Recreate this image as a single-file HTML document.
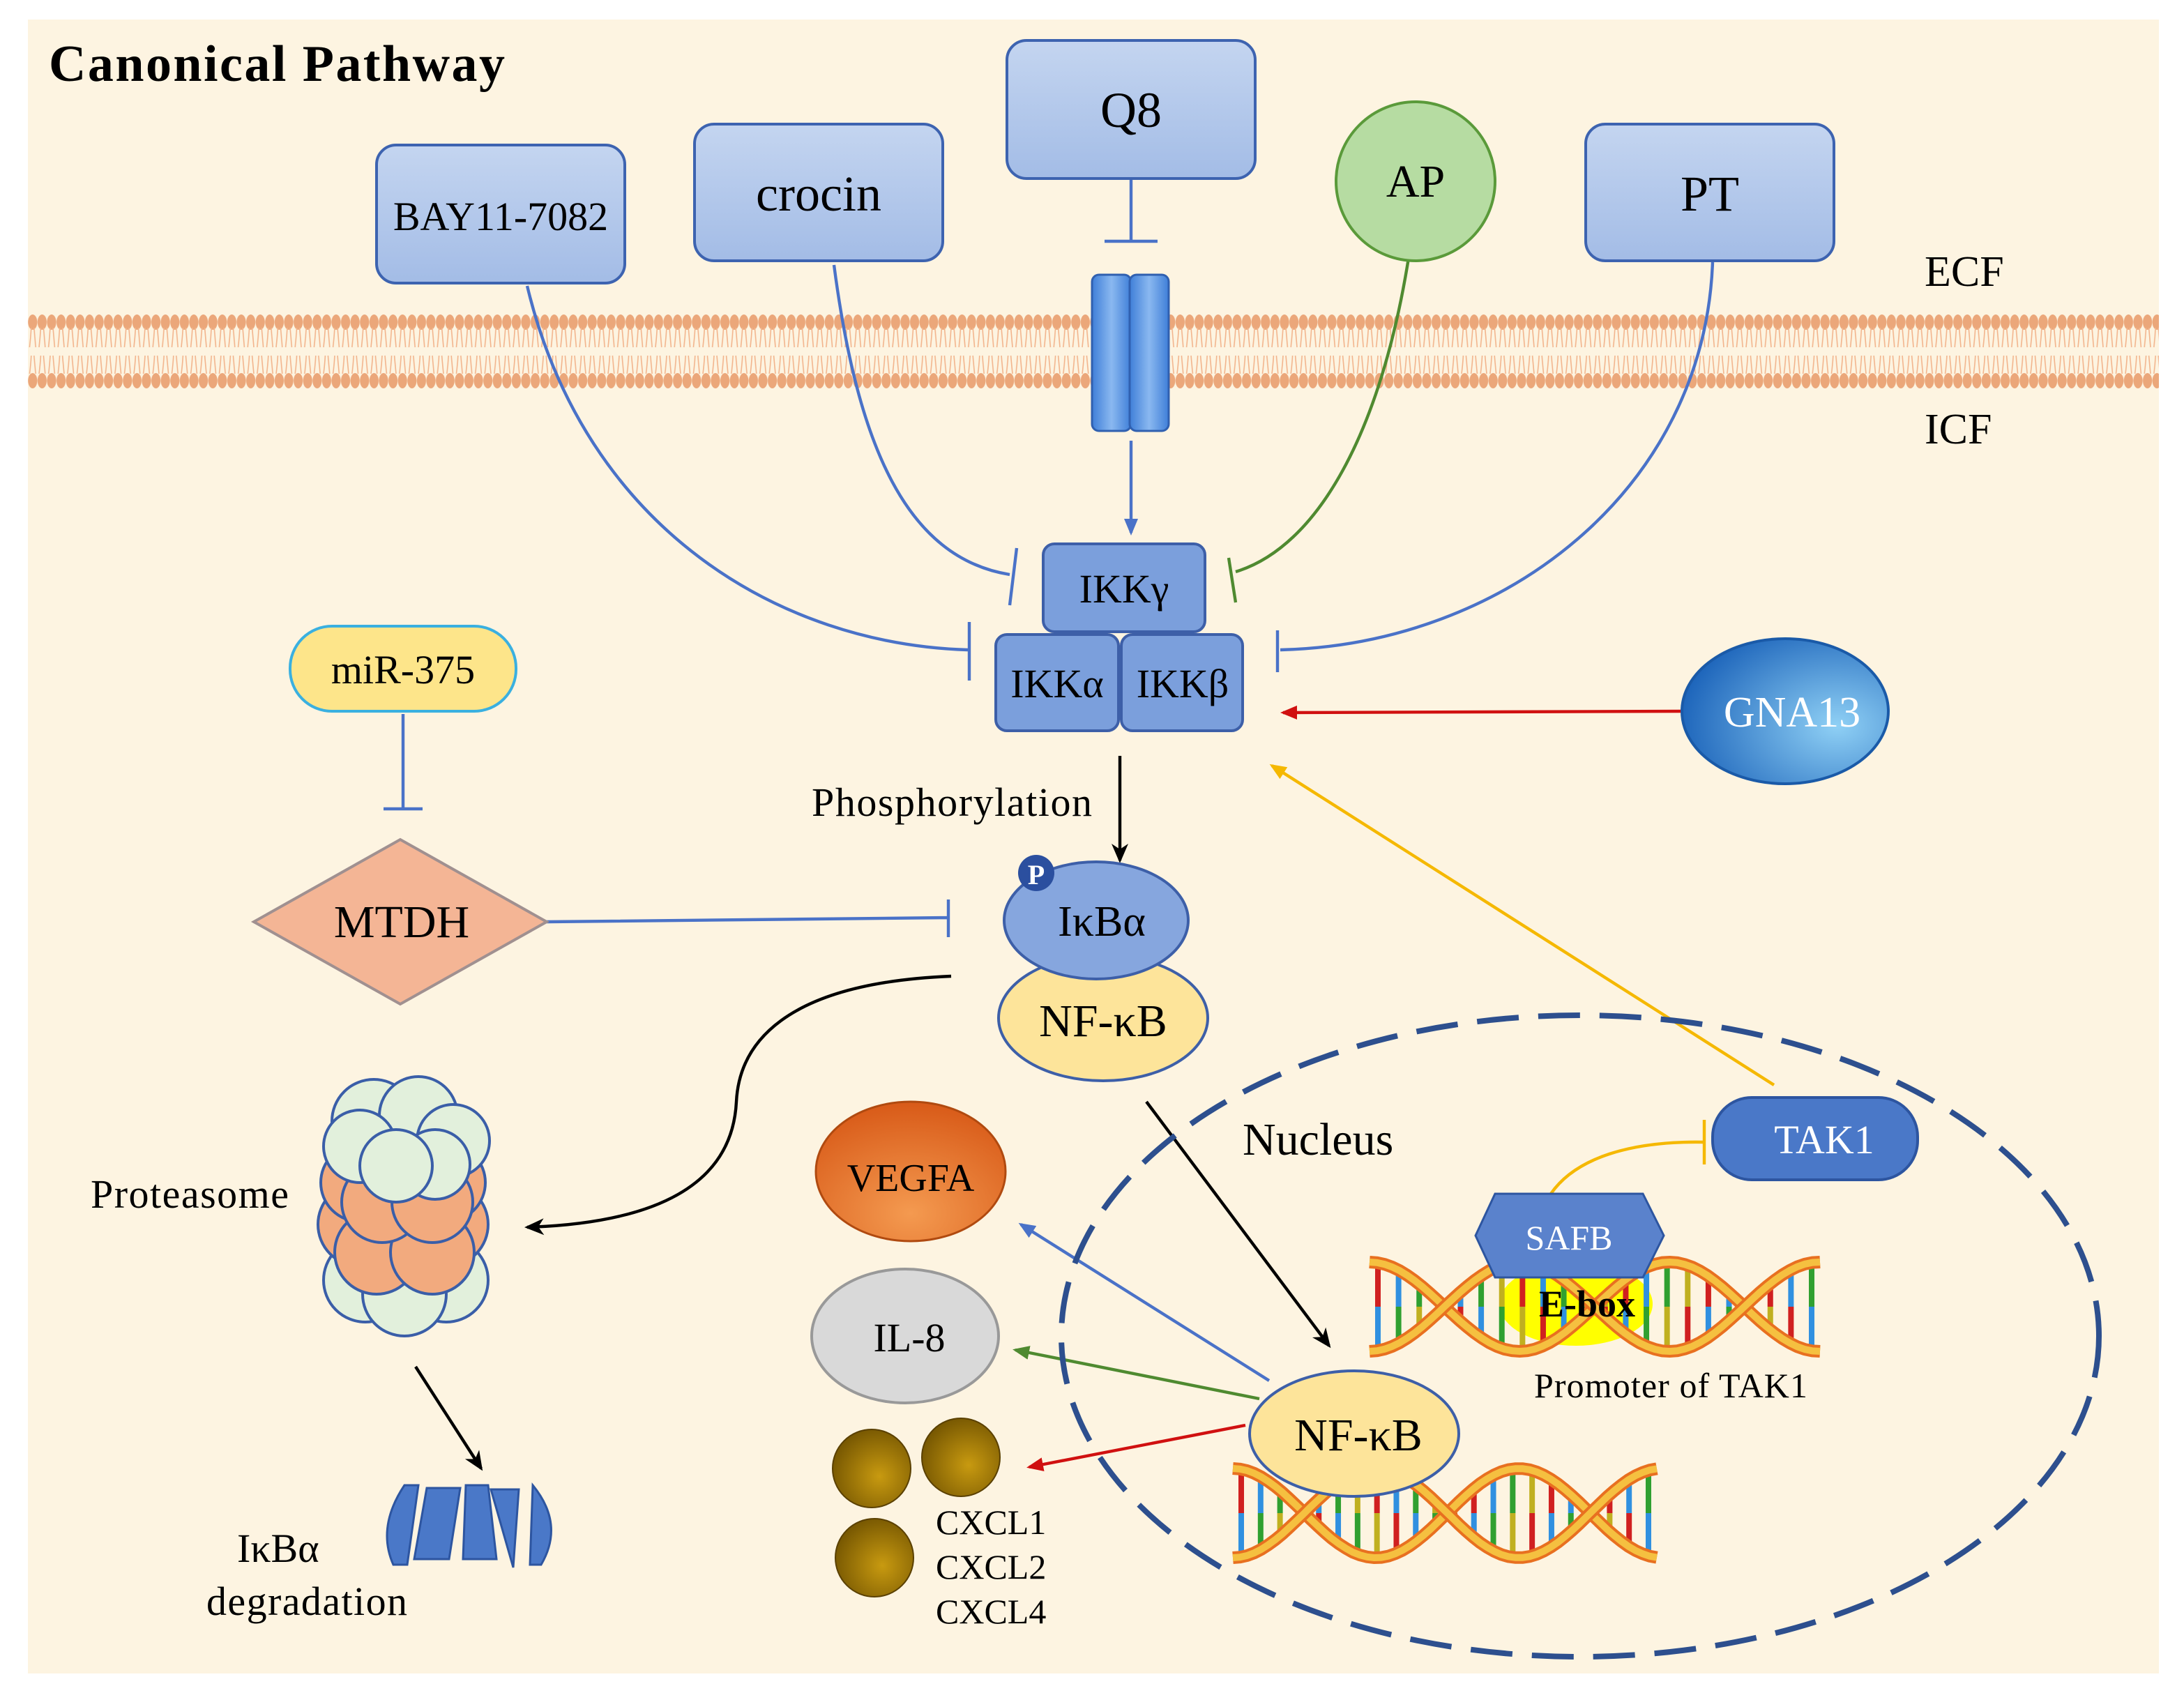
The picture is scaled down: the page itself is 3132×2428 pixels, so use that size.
<!DOCTYPE html>
<html><head><meta charset="utf-8"><style>
html,body{margin:0;padding:0;background:#fff}
svg{display:block}
text{font-family:"Liberation Serif",serif}
</style></head><body>
<svg id="s" width="3132" height="2428" viewBox="0 0 1566 1214" xmlns="http://www.w3.org/2000/svg">
<defs>
<linearGradient id="bx" x1="0" y1="0" x2="0" y2="1"><stop offset="0" stop-color="#c4d5f0"/><stop offset="1" stop-color="#a3bce6"/></linearGradient>
<linearGradient id="ch" x1="0" y1="0" x2="1" y2="0"><stop offset="0" stop-color="#3f7fd8"/><stop offset=".5" stop-color="#8ab8f0"/><stop offset="1" stop-color="#3f7fd8"/></linearGradient>
<radialGradient id="gn" cx=".75" cy=".6" r=".8"><stop offset="0" stop-color="#8fd0f5"/><stop offset="1" stop-color="#1860b8"/></radialGradient>
<radialGradient id="vg" cx=".5" cy=".8" r=".8"><stop offset="0" stop-color="#f49a50"/><stop offset="1" stop-color="#d85a18"/></radialGradient>
<radialGradient id="gd" cx=".6" cy=".6" r=".7"><stop offset="0" stop-color="#c89a10"/><stop offset="1" stop-color="#6e5000"/></radialGradient>
<pattern id="mt" x="20" y="222" width="6.8" height="60" patternUnits="userSpaceOnUse">
<ellipse cx="3.4" cy="9" rx="3.3" ry="5.5" fill="#eba77a"/>
<path d="M2.4 13 Q2 20 1.2 27 M4.4 13 Q5 20 5.6 27" stroke="#f2b48c" stroke-width=".8" fill="none"/>
<path d="M2.4 33 Q2 40 1.2 46 M4.4 33 Q5 40 5.6 46" stroke="#f2b48c" stroke-width=".8" fill="none"/>
<ellipse cx="3.4" cy="51" rx="3.3" ry="5.5" fill="#eba77a"/>
</pattern>
<marker id="abl" markerWidth="12" markerHeight="12" refX="10" refY="6" orient="auto" markerUnits="userSpaceOnUse"><path d="M0 1 L12 6 L0 11 Z" fill="#4a72c8"/></marker>
<marker id="ar" markerWidth="12" markerHeight="12" refX="10" refY="6" orient="auto" markerUnits="userSpaceOnUse"><path d="M0 1 L12 6 L0 11 Z" fill="#d01010"/></marker>
<marker id="ag" markerWidth="12" markerHeight="12" refX="10" refY="6" orient="auto" markerUnits="userSpaceOnUse"><path d="M0 1 L12 6 L0 11 Z" fill="#4f8a30"/></marker>
<marker id="ay" markerWidth="12" markerHeight="12" refX="10" refY="6" orient="auto" markerUnits="userSpaceOnUse"><path d="M0 1 L12 6 L0 11 Z" fill="#f5b800"/></marker>
<marker id="ak" markerWidth="14" markerHeight="14" refX="12" refY="7" orient="auto" markerUnits="userSpaceOnUse"><path d="M0 1 L14 7 L0 13 L4 7 Z" fill="#000"/></marker>
</defs>
<rect x="20" y="14" width="1528" height="1186" fill="#fdf4e1"/>
<rect x="20" y="222" width="1528" height="60" fill="url(#mt)"/>
<text x="35" y="58" font-size="37" font-weight="bold" textLength="327">Canonical Pathway</text>
<text x="1380" y="205" font-size="31">ECF</text>
<text x="1380" y="318" font-size="31">ICF</text>

<g fill="none" stroke-width="2.2">
<path d="M378 205 C 420 380, 560 462, 694 466" stroke="#4a72c8"/>
<path d="M695 446 L695 488" stroke="#4a72c8"/>
<path d="M598 190 C 615 320, 650 400, 724 412" stroke="#4a72c8"/>
<path d="M729 393 L724 434" stroke="#4a72c8"/>
<path d="M1010 185 C 990 310, 945 392, 886 410" stroke="#4f8a30"/>
<path d="M881 400 L886 432" stroke="#4f8a30"/>
<path d="M1228 188 C 1222 350, 1080 462, 918 466" stroke="#4a72c8"/>
<path d="M916 452 L916 482" stroke="#4a72c8"/>
<path d="M811 128 L811 173 M792 173 L830 173" stroke="#4a72c8"/>
<path d="M811 316 L811 382" stroke="#4a72c8" marker-end="url(#abl)"/>
<path d="M1206 510 L920 511" stroke="#d01010" marker-end="url(#ar)"/>
<path d="M1272 778 L912 549" stroke="#f5b800" marker-end="url(#ay)"/>
<path d="M1112 856 C 1130 830, 1170 818, 1222 819" stroke="#f5b800"/>
<path d="M1222 803 L1222 835" stroke="#f5b800"/>
<path d="M289 512 L289 580 M275 580 L303 580" stroke="#4a72c8"/>
<path d="M392 661 L680 658 M680 645 L680 672" stroke="#4a72c8"/>
<path d="M803 542 L803 617" stroke="#000" marker-end="url(#ak)"/>
<path d="M682 700 C 560 705, 530 750, 528 790 C 525 850, 470 877, 378 880" stroke="#000" marker-end="url(#ak)"/>
<path d="M298 980 L345 1053" stroke="#000" marker-end="url(#ak)"/>
<path d="M822 790 L953 965" stroke="#000" marker-end="url(#ak)"/>
<path d="M910 990 L732 878" stroke="#4a72c8" marker-end="url(#abl)"/>
<path d="M903 1003 L728 968" stroke="#4f8a30" marker-end="url(#ag)"/>
<path d="M893 1022 L738 1052" stroke="#d01010" marker-end="url(#ar)"/>
</g>

<ellipse cx="1133" cy="958" rx="372" ry="230" fill="none" stroke="#2d4f8e" stroke-width="4" stroke-dasharray="30 14"/>
<text x="891" y="828" font-size="33">Nucleus</text>

<g stroke="#3d63b0" stroke-width="2" fill="url(#bx)">
<rect x="270" y="104" width="178" height="99" rx="14"/>
<rect x="498" y="89" width="178" height="98" rx="14"/>
<rect x="722" y="29" width="178" height="99" rx="14"/>
<rect x="1137" y="89" width="178" height="98" rx="14"/>
</g>
<circle cx="1015" cy="130" r="57" fill="#b6dca2" stroke="#5a9a3a" stroke-width="2"/>
<g text-anchor="middle">
<text x="359" y="165" font-size="29">BAY11-7082</text>
<text x="587" y="151" font-size="36">crocin</text>
<text x="811" y="91" font-size="36">Q8</text>
<text x="1015" y="141" font-size="33">AP</text>
<text x="1226" y="151" font-size="36">PT</text>
</g>
<rect x="783" y="197" width="28" height="112" rx="5" fill="url(#ch)" stroke="#3060b0" stroke-width="1.5"/>
<rect x="810" y="197" width="28" height="112" rx="5" fill="url(#ch)" stroke="#3060b0" stroke-width="1.5"/>

<g fill="#7b9fdc" stroke="#3d5fa8" stroke-width="2">
<rect x="748" y="390" width="116" height="63" rx="8"/>
<rect x="714" y="455" width="88" height="69" rx="8"/>
<rect x="804" y="455" width="87" height="69" rx="8"/>
</g>
<g text-anchor="middle" font-size="29">
<text x="806" y="432">IKKγ</text>
<text x="758" y="500">IKKα</text>
<text x="848" y="500">IKKβ</text>
</g>

<ellipse cx="1280" cy="510" rx="74" ry="52" fill="url(#gn)" stroke="#1a5aa8" stroke-width="2"/>
<text x="1285" y="521" font-size="31" fill="#fff" text-anchor="middle">GNA13</text>
<rect x="1228" y="787" width="147" height="59" rx="28" fill="#4a78c8" stroke="#2d55a0" stroke-width="2"/>
<text x="1308" y="827" font-size="29" fill="#fff" text-anchor="middle">TAK1</text>

<rect x="208" y="449" width="162" height="61" rx="30" fill="#fde58a" stroke="#3ab0e0" stroke-width="2"/>
<text x="289" y="490" font-size="29" text-anchor="middle">miR-375</text>
<polygon points="182,661 287,602 392,661 287,720" fill="#f4b595" stroke="#a09090" stroke-width="2"/>
<text x="288" y="672" font-size="33" text-anchor="middle">MTDH</text>

<text x="582" y="585" font-size="29" textLength="201">Phosphorylation</text>

<ellipse cx="791" cy="730" rx="75" ry="45" fill="#fde49a" stroke="#3d5fa8" stroke-width="2"/>
<ellipse cx="786" cy="660" rx="66" ry="42" fill="#86a6de" stroke="#3d5fa8" stroke-width="2"/>
<circle cx="743" cy="626" r="13" fill="#2b4f9f"/>
<text x="743" y="634" font-size="20" font-weight="bold" fill="#fff" text-anchor="middle">P</text>
<text x="790" y="671" font-size="31" text-anchor="middle">IκBα</text>
<text x="791" y="743" font-size="33" text-anchor="middle">NF-κB</text>

<g stroke="#3a5ea8" stroke-width="2">
<g fill="#e2f0dc">
<circle cx="262" cy="918" r="30"/><circle cx="320" cy="918" r="30"/><circle cx="290" cy="928" r="30"/>
</g>
<g fill="#f2aa7e">
<circle cx="258" cy="878" r="30"/><circle cx="320" cy="878" r="30"/><circle cx="270" cy="898" r="30"/><circle cx="310" cy="898" r="30"/>
<circle cx="258" cy="848" r="28"/><circle cx="320" cy="848" r="28"/><circle cx="274" cy="862" r="29"/><circle cx="310" cy="862" r="29"/>
</g>
<g fill="#e2f0dc">
<circle cx="268" cy="804" r="30"/><circle cx="300" cy="800" r="28"/><circle cx="325" cy="818" r="26"/>
<circle cx="258" cy="822" r="26"/><circle cx="312" cy="835" r="25"/><circle cx="284" cy="836" r="26"/>
</g>
</g>
<text x="65" y="866" font-size="29" textLength="142">Proteasome</text>

<g fill="#4a78c8" stroke="#2d55a0" stroke-width="1.5">
<path d="M290 1065 L300 1065 L292 1122 L282 1122 Q270 1095 290 1065Z"/>
<path d="M306 1067 L330 1067 L322 1118 L297 1118Z"/>
<path d="M334 1065 L350 1065 L356 1118 L332 1118Z"/>
<path d="M352 1068 L372 1068 L368 1124Z"/>
<path d="M382 1065 Q405 1093 388 1122 L380 1122 Z"/>
</g>
<text x="170" y="1120" font-size="29">IκBα</text>
<text x="148" y="1158" font-size="29" textLength="144">degradation</text>

<ellipse cx="653" cy="840" rx="68" ry="50" fill="url(#vg)" stroke="#b04a10" stroke-width="1.5"/>
<text x="653" y="854" font-size="28" text-anchor="middle">VEGFA</text>
<ellipse cx="649" cy="958" rx="67" ry="48" fill="#d9d9d9" stroke="#999" stroke-width="2"/>
<text x="652" y="969" font-size="29" text-anchor="middle">IL-8</text>
<circle cx="625" cy="1053" r="28" fill="url(#gd)" stroke="#5a4000"/>
<circle cx="689" cy="1045" r="28" fill="url(#gd)" stroke="#5a4000"/>
<circle cx="627" cy="1117" r="28" fill="url(#gd)" stroke="#5a4000"/>
<g font-size="25"><text x="671" y="1100">CXCL1</text><text x="671" y="1132">CXCL2</text><text x="671" y="1164">CXCL4</text></g>

<ellipse cx="1130" cy="935" rx="55" ry="30" fill="#ffff00"/>
<g id="dna"></g>
<polygon points="1058,886 1072,856 1178,856 1193,886 1178,916 1072,916" fill="#5a82cc" stroke="#2d55a0" stroke-width="1.5"/>
<text x="1125" y="896" font-size="25" fill="#fff" text-anchor="middle">SAFB</text>
<text x="1138" y="944" font-size="27" font-weight="bold" text-anchor="middle">E-box</text>
<text x="1100" y="1002" font-size="25" textLength="196">Promoter of TAK1</text>

<ellipse cx="971" cy="1028" rx="75" ry="45" fill="#fde49a" stroke="#3d5fa8" stroke-width="2"/>
<text x="974" y="1040" font-size="33" text-anchor="middle">NF-κB</text>
</svg>
<script>
(function(){
var g=document.getElementById('dna');
var cols=['#d02020','#3090e0','#30a030','#c0b020'];
function helix(x0,x1,yc,a,w){
  var n=60,p1='',p2='',out='',rung='';
  for(var i=0;i<=n;i++){var x=x0+(x1-x0)*i/n,t=(x-x0)/w*2*Math.PI;
    var y1=yc-a*Math.cos(t),y2=yc+a*Math.cos(t);
    p1+=(i?'L':'M')+x.toFixed(1)+' '+y1.toFixed(1);p2+=(i?'L':'M')+x.toFixed(1)+' '+y2.toFixed(1);}
  for(var k=0;k<22;k++){var x=x0+6+(x1-x0-12)*k/21,t=(x-x0)/w*2*Math.PI,y1=yc-a*Math.cos(t),y2=yc+a*Math.cos(t);
    var m=(y1+y2)/2;
    rung+='<line x1="'+x+'" y1="'+y1+'" x2="'+x+'" y2="'+m+'" stroke="'+cols[k%4]+'" stroke-width="4"/>';
    rung+='<line x1="'+x+'" y1="'+m+'" x2="'+x+'" y2="'+y2+'" stroke="'+cols[(k+1)%4]+'" stroke-width="4"/>';}
  out+=rung;
  out+='<path d="'+p1+'" fill="none" stroke="#e87020" stroke-width="9"/><path d="'+p1+'" fill="none" stroke="#f5c040" stroke-width="5"/>';
  out+='<path d="'+p2+'" fill="none" stroke="#e87020" stroke-width="9"/><path d="'+p2+'" fill="none" stroke="#f5c040" stroke-width="5"/>';
  return out;}
g.innerHTML=helix(982,1305,937,32,215)+helix(884,1188,1085,32,205);
})();
</script>
</body></html>
